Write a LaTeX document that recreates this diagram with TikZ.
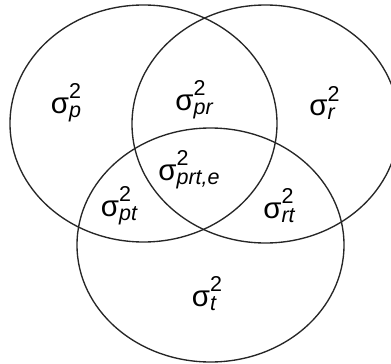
\documentclass[tikz,border=0pt]{standalone}
\usepackage{fontspec}
\setmainfont{Liberation Sans}
\newcommand{\scriptsz}{\fontsize{21.5}{22}\selectfont}
% sigma with a stacked 2 above and an italic index below
\newcommand{\varlbl}[1]{%
  σ\makebox[0pt][l]{\raisebox{0.5em}{\scriptsz 2}}%
  \raisebox{-0.14em}{\scriptsz\itshape #1}}

\begin{document}
\begin{tikzpicture}[
    x=1pt, y=-1pt,
    set/.style   = {line width=1.35pt, draw=black!85},
    varlbl/.style = {font=\fontsize{29.5}{32}\selectfont, inner sep=0pt}
  ]

\useasboundingbox (0,0) rectangle (391,364);
\clip (0,0) rectangle (391,364);

% the three sets
\draw[set] (143.5,123.5) ellipse [x radius=133.5, y radius=118.5];
\draw[set] (265.5,124)   ellipse [x radius=133.5, y radius=119];
\draw[set] (210.5,245)   ellipse [x radius=133.5, y radius=117];

% variance components
\node[varlbl] (p)   at (66,103)  {\varlbl{p}};
\node[varlbl] (pr)  at (194,100) {\varlbl{pr}};
\node[varlbl] (r)   at (322,103) {\varlbl{r}};
\node[varlbl] (prt) at (189,170) {\varlbl{prt,e}};
\node[varlbl] (pt)  at (119,206) {\varlbl{pt}};
\node[varlbl] (rt)  at (279,206) {\varlbl{rt}};
\node[varlbl] (t)   at (204,294) {\varlbl{t}};

\end{tikzpicture}
\end{document}
